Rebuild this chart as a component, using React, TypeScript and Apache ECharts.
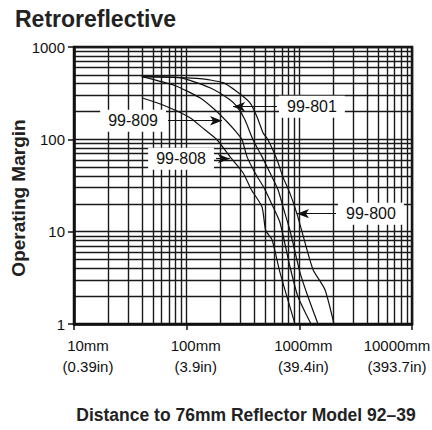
import React, { useEffect, useRef } from "react";
import * as echarts from "echarts";

// ---- data (distance in mm, operating margin) ----
const seriesNames = ["99-800", "99-801", "99-809", "99-808"];

const x800 = [40, 131, 210, 280, 365, 421, 476, 527, 634, 716, 826, 953, 1056, 1322, 1689, 2030];
const y800 = [477, 454, 411, 328, 249, 176, 118, 99, 60, 39, 26, 15.6, 10, 3.9, 2.35, 1];

const x801 = [40, 87, 161, 242, 280, 329, 388, 466, 549, 647, 716, 826, 1014, 1194, 1464];
const y801 = [477, 465, 362, 269, 226, 163, 99, 65, 43.5, 28.5, 18.6, 10.3, 3.6, 1.97, 1];

const x809 = [40, 79, 131, 178, 228, 274, 310, 343, 404, 496, 584, 674, 826, 973, 1269];
const y809 = [477, 381, 282, 209, 155, 121, 99, 65, 43.5, 28.5, 18.6, 12.5, 4.17, 1.97, 1];

const x808 = [40, 64, 107, 145, 186, 242, 316, 375, 466, 503, 572, 674, 915];
const y808 = [282, 231, 171.5, 127, 99, 65, 43.5, 28.5, 18.6, 10.3, 8.2, 3.6, 1];

// annotation arrows: [startX, startY, endX, endY] in data units
const arrow800 = [2116, 15.65, 953, 15.65];
const arrow801 = [634, 225.6, 258, 225.6];
const arrow809 = [68.3, 159, 206, 159];
const arrow808 = [182, 61.7, 242, 61.7];

const xTickValues = [10, 100, 1000, 10000];
const xTickLabels = [
  ["10mm", "(0.39in)"],
  ["100mm", "(3.9in)"],
  ["1000mm", "(39.4in)"],
  ["10000mm", "(393.7in)"],
];
const yTickLabels = ["1", "10", "100", "1000"];

const titleText = "Retroreflective";
const xName = "Distance to 76mm Reflector Model 92\u201339";
const yName = "Operating Margin";

const FONT = "'Liberation Sans', Arial, Helvetica, sans-serif";
const INK = "#111";

function zip(xs: number[], ys: number[]) {
  return xs.map((x, i) => [x, ys[i]]);
}

export default function App() {
  const ref = useRef<HTMLDivElement>(null);
  useEffect(() => {
    if (!ref.current) return;
    const chart = echarts.init(ref.current, undefined, { renderer: "svg" });
    const datasets = [
      { name: seriesNames[0], data: zip(x800, y800), arrow: arrow800 },
      { name: seriesNames[1], data: zip(x801, y801), arrow: arrow801 },
      { name: seriesNames[2], data: zip(x809, y809), arrow: arrow809 },
      { name: seriesNames[3], data: zip(x808, y808), arrow: arrow808 },
    ];
    const gridLine = { color: "#1a1a1a", width: 1.4 };
    chart.setOption({
      animation: false,
      backgroundColor: "#fff",
      grid: {
        left: 74,
        right: 20,
        top: 47,
        bottom: 106,
        show: true,
        borderColor: INK,
        borderWidth: 2.5,
        containLabel: false,
        outerBoundsMode: "none",
      },
      xAxis: {
        type: "log",
        logBase: 10,
        min: 10,
        max: 10000,
        axisLine: { show: true, lineStyle: { color: INK, width: 2.5 } },
        axisTick: { show: true, length: 6, lineStyle: { color: INK, width: 1.5 } },
        minorTick: { show: false, splitNumber: 9 },
        splitLine: { show: true, lineStyle: gridLine },
        minorSplitLine: { show: true, lineStyle: gridLine },
        axisLabel: { show: false },
      },
      yAxis: {
        type: "log",
        logBase: 10,
        min: 1,
        max: 1000,
        axisLine: { show: true, lineStyle: { color: INK, width: 2.5 } },
        axisTick: { show: true, length: 6, lineStyle: { color: INK, width: 1.5 } },
        minorTick: { show: false, splitNumber: 9 },
        splitLine: { show: true, lineStyle: gridLine },
        minorSplitLine: { show: true, lineStyle: gridLine },
        axisLabel: {
          margin: 9,
          fontSize: 15,
          color: INK,
          fontFamily: FONT,
          formatter: (v: number) => yTickLabels[Math.round(Math.log10(v))] ?? "",
        },
      },
      series: datasets.map((d) => ({
        name: d.name,
        type: "line",
        data: d.data,
        showSymbol: false,
        symbol: "none",
        smooth: 0.2,
        lineStyle: { color: INK, width: 1.2 },
        emphasis: { disabled: true },
        silent: true,
        markLine: {
          silent: true,
          symbol: ["none", "arrow"],
          symbolSize: [7, 12],
          lineStyle: { color: INK, width: 1.2, type: "solid" },
          emphasis: { disabled: true },
          label: {
            show: true,
            position: "start",
            formatter: d.name,
            backgroundColor: "#fff",
            padding: [3, 8],
            distance: 2,
            fontSize: 16,
            color: INK,
            fontFamily: FONT,
          },
          data: [
            [
              { coord: [d.arrow[0], d.arrow[1]] },
              { coord: [d.arrow[2], d.arrow[3]] },
            ],
          ],
        },
      })),
    });

    // x-axis tick labels placed at the axis' own pixel positions (slightly offset as in the original)
    const labelShift = [14, 9, 4, -15];
    const axisY = chart.convertToPixel({ yAxisIndex: 0 }, 1) as number;
    const tickTexts: any[] = [];
    xTickValues.forEach((v, i) => {
      const px = chart.convertToPixel({ xAxisIndex: 0 }, v) as number;
      xTickLabels[i].forEach((t, j) => {
        tickTexts.push({
          type: "text",
          x: px + labelShift[i],
          y: axisY + 21.5 + j * 21,
          style: {
            text: t,
            font: `15px ${FONT}`,
            fill: INK,
            textAlign: "center",
            textVerticalAlign: "middle",
          },
        });
      });
    });

    chart.setOption({
      graphic: [
        {
          type: "text",
          x: 15,
          y: 19,
          style: {
            text: titleText,
            font: `bold 23px ${FONT}`,
            fill: "#222",
            textAlign: "left",
            textVerticalAlign: "middle",
          },
        },
        {
          type: "text",
          x: 18,
          y: 198,
          rotation: Math.PI / 2,
          style: {
            text: yName,
            font: `bold 19px ${FONT}`,
            fill: "#222",
            textAlign: "center",
            textVerticalAlign: "middle",
          },
        },
        {
          type: "text",
          x: 246,
          y: 415,
          style: {
            text: xName,
            font: `bold 17.5px ${FONT}`,
            fill: "#222",
            textAlign: "center",
            textVerticalAlign: "middle",
          },
        },
        ...tickTexts,
      ],
    });
    return () => chart.dispose();
  }, []);
  return (
    <div
      ref={ref}
      style={{ position: "fixed", left: 0, top: 0, width: 432, height: 430, background: "#fff" }}
    />
  );
}
